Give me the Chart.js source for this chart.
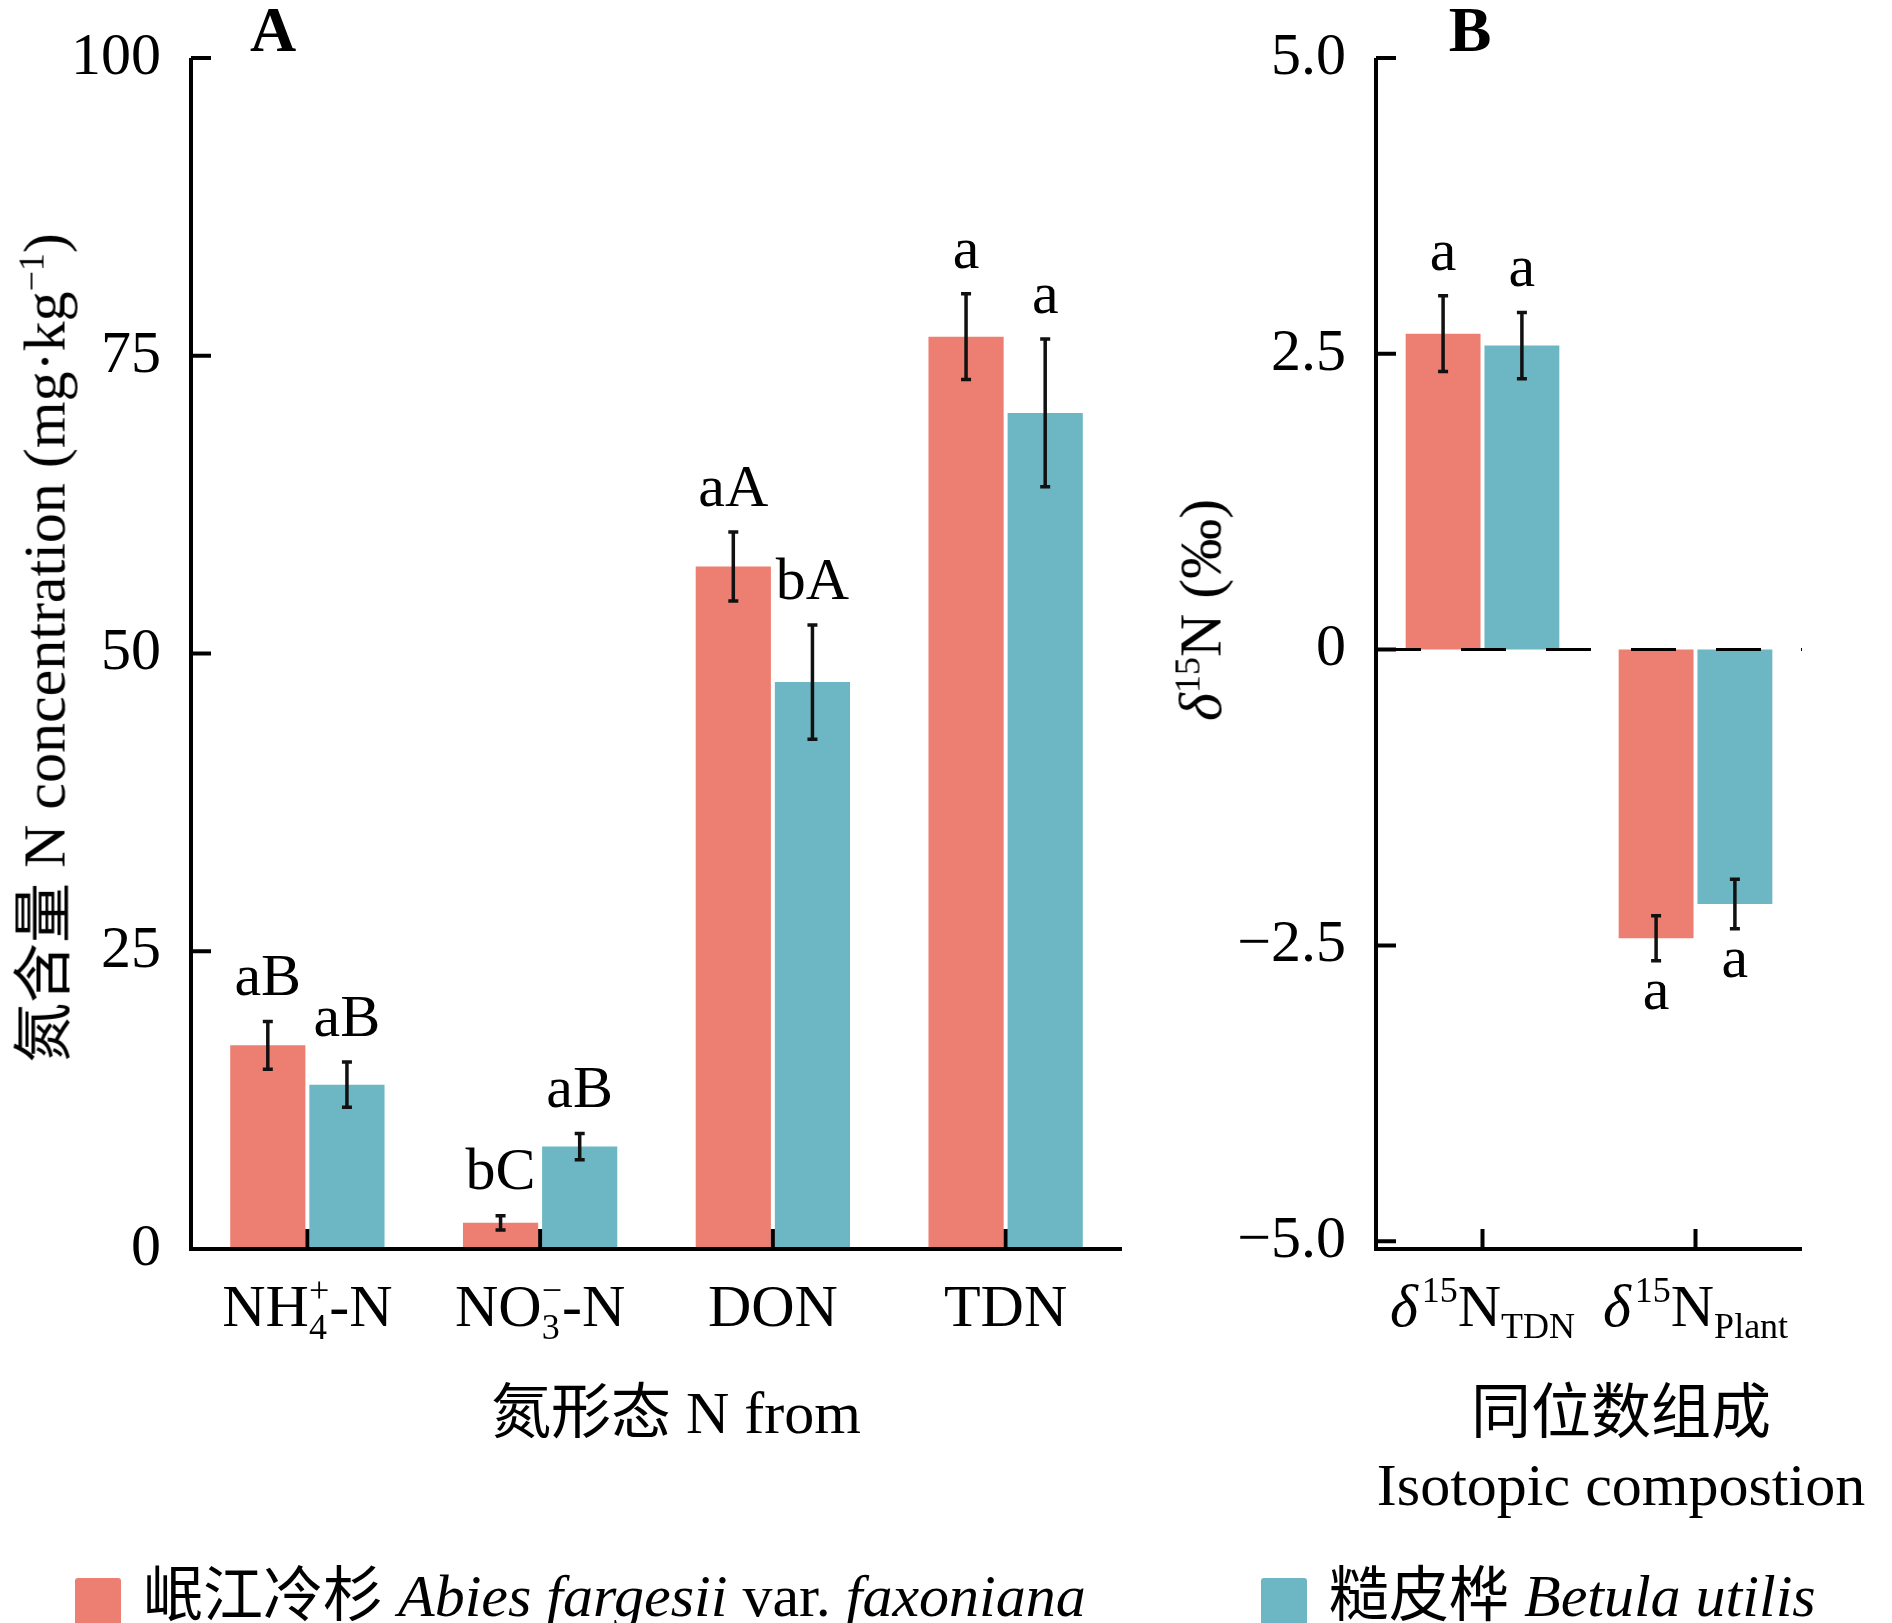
<!DOCTYPE html>
<html>
<head>
<meta charset="utf-8">
<script src="https://cdn.jsdelivr.net/npm/chart.js@4"></script>
<style>
  body { margin: 0; background: #fff; width: 1892px; height: 1623px; position: relative; overflow: hidden;
         font-family: "Liberation Serif", "Noto Sans CJK SC", serif; }
  canvas { position: absolute; top: 0; }
  .t { position: absolute; white-space: nowrap; color: #000; font-size: 60px; transform: translate(-50%, -50%); }
  .cjk { font-family: "Noto Sans CJK SC", sans-serif; }
  .legend { position: absolute; top: 1560px; font-size: 60px; height: 60px; line-height: 60px; white-space: nowrap; }
  .sw { display: inline-block; width: 46px; height: 48px; vertical-align: middle; margin-right: 22px; border-radius: 3px; }
</style>
</head>
<body>
<canvas id="chartA"></canvas>
<canvas id="chartB"></canvas>

<div class="t" style="left:273px;top:30px;font-weight:bold;font-size:64px">A</div>
<div class="t" style="left:1470px;top:30px;font-weight:bold;font-size:64px">B</div>
<div class="t" style="left:676px;top:1406px"><span class="cjk">氮形态</span> N from</div>
<div class="t cjk" style="left:1621px;top:1406px">同位数组成</div>
<div class="t" style="left:1621px;top:1485px">Isotopic compostion</div>
<div class="t" style="left:38px;top:648px;transform:translate(-50%,-50%) rotate(-90deg)"><span class="cjk">氮含量</span> N concentration (mg·kg<sup style="font-size:36px">−1</sup>)</div>
<div class="t" style="left:1201px;top:610px;transform:translate(-50%,-50%) rotate(-90deg)"><i>δ</i><sup style="font-size:36px">15</sup>N (‰)</div>

<div class="legend" style="left:75px"><span class="sw" style="background:#EC7F71"></span><span class="cjk">岷江冷杉</span> <i>Abies fargesii</i> var. <i>faxoniana</i></div>
<div class="legend" style="left:1261px"><span class="sw" style="background:#6DB7C5"></span><span class="cjk">糙皮桦</span> <i>Betula utilis</i></div>

<script>
// Panel A: nitrogen forms
const formCats = ['NH4', 'NO3', 'DON', 'TDN'];
const abiesN = [17.1, 2.2, 57.3, 76.6];
const abiesNErr = [2.0, 0.6, 2.9, 3.6];
const betulaN = [13.8, 8.6, 47.6, 70.2];
const betulaNErr = [1.9, 1.1, 4.8, 6.2];
const abiesNLetters = ['aB', 'bC', 'aA', 'a'];
const betulaNLetters = ['aB', 'aB', 'bA', 'a'];
const yTicksA = [0, 25, 50, 75, 100];

// Panel B: isotopes
const isoCats = ['TDN', 'Plant'];
const abiesD = [2.67, -2.44];
const abiesDErr = [0.32, 0.19];
const betulaD = [2.57, -2.15];
const betulaDErr = [0.28, 0.21];
const abiesDLetters = ['a', 'a'];
const betulaDLetters = ['a', 'a'];
const yTicksB = [-5, -2.5, 0, 2.5, 5];
const yTickLabelsB = ['−5.0', '−2.5', '0', '2.5', '5.0'];

const RED = '#EC7F71', TEAL = '#6DB7C5';
const SERIF = '"Liberation Serif", serif';

// error bars + significance letters
function errorPlugin(errs, letters) {
    return {
        id: 'errs',
        afterDatasetsDraw(chart) {
            const ctx = chart.ctx, y = chart.scales.y;
            ctx.save();
            ctx.strokeStyle = '#111';
            ctx.lineWidth = 3.5;
            ctx.fillStyle = '#000';
            ctx.font = '60px ' + SERIF;
            ctx.textAlign = 'center';
            chart.data.datasets.forEach((ds, di) => {
                chart.getDatasetMeta(di).data.forEach((bar, i) => {
                    const v = ds.data[i], e = errs[di][i];
                    const yt = y.getPixelForValue(v + e), yb = y.getPixelForValue(v - e);
                    ctx.beginPath();
                    ctx.moveTo(bar.x, yt); ctx.lineTo(bar.x, yb);
                    ctx.moveTo(bar.x - 5, yt); ctx.lineTo(bar.x + 5, yt);
                    ctx.moveTo(bar.x - 5, yb); ctx.lineTo(bar.x + 5, yb);
                    ctx.stroke();
                    if (v >= 0) {
                        ctx.textBaseline = 'bottom';
                        ctx.fillText(letters[di][i], bar.x, yt - 12);
                    } else {
                        ctx.textBaseline = 'top';
                        ctx.fillText(letters[di][i], bar.x, yb + 2);
                    }
                });
            });
            ctx.restore();
        }
    };
}

// tick marks pointing inward
function ticksPlugin(yTicks, axisBottom) {
    return {
        id: 'ticks',
        afterDraw(chart) {
            const ctx = chart.ctx, x = chart.scales.x, y = chart.scales.y, a = chart.chartArea;
            ctx.save();
            ctx.strokeStyle = '#000';
            ctx.lineWidth = 4;
            ctx.beginPath();
            ctx.moveTo(a.left, a.top); ctx.lineTo(a.left, axisBottom);
            ctx.moveTo(a.left - 2, axisBottom); ctx.lineTo(a.right, axisBottom);
            yTicks.forEach(t => {
                const py = y.getPixelForValue(t);
                ctx.moveTo(a.left, py); ctx.lineTo(a.left + 20, py);
            });
            x.ticks.forEach((t, i) => {
                const px = x.getPixelForTick(i);
                ctx.moveTo(px, axisBottom); ctx.lineTo(px, axisBottom - 20);
            });
            ctx.stroke();
            ctx.restore();
        }
    };
}

// draw a label made of pieces: n normal, i italic, sup, sub, stack (sup over sub)
function drawRich(ctx, parts, cx, cy, size) {
    const big = size + 'px ' + SERIF, small = Math.round(size * 0.6) + 'px ' + SERIF,
          ital = 'italic ' + big;
    const widths = parts.map(p => {
        if (p.k === 'n') { ctx.font = big; return ctx.measureText(p.t).width; }
        if (p.k === 'i') { ctx.font = ital; return ctx.measureText(p.t).width + 4; }
        ctx.font = small;
        if (p.k === 'stack') return Math.max(ctx.measureText(p.t).width, ctx.measureText(p.b).width);
        return ctx.measureText(p.t).width;
    });
    let x = cx - widths.reduce((s, w) => s + w, 0) / 2;
    ctx.textBaseline = 'alphabetic';
    ctx.textAlign = 'left';
    parts.forEach((p, i) => {
        if (p.k === 'n') { ctx.font = big; ctx.fillText(p.t, x, cy); }
        else if (p.k === 'i') { ctx.font = ital; ctx.fillText(p.t, x, cy); }
        else if (p.k === 'sup') { ctx.font = small; ctx.fillText(p.t, x, cy - size * 0.4); }
        else if (p.k === 'sub') { ctx.font = small; ctx.fillText(p.t, x, cy + size * 0.2); }
        else { ctx.font = small; ctx.fillText(p.t, x, cy - size * 0.4); ctx.fillText(p.b, x, cy + size * 0.22); }
        x += widths[i];
    });
}

function labelPlugin(labels, ly) {
    return {
        id: 'xlabels',
        afterDraw(chart) {
            const ctx = chart.ctx, x = chart.scales.x;
            ctx.save();
            ctx.fillStyle = '#000';
            labels.forEach((parts, i) => drawRich(ctx, parts, x.getPixelForTick(i), ly, 60));
            ctx.restore();
        }
    };
}

const zeroLine = {
    id: 'zero',
    afterDatasetsDraw(chart) {
        const ctx = chart.ctx, a = chart.chartArea, py = chart.scales.y.getPixelForValue(0);
        ctx.save();
        ctx.strokeStyle = '#000';
        ctx.lineWidth = 3;
        ctx.setLineDash([45, 40]);
        ctx.beginPath();
        ctx.moveTo(a.left, py); ctx.lineTo(a.right, py);
        ctx.stroke();
        ctx.restore();
    }
};

function makeChart(id, left, w, h, cats, d1, d2, yMin, yMax, yTicks, yLabels, pad, catPct, plugins) {
    const cv = document.getElementById(id);
    cv.style.left = left + 'px';
    return new Chart(cv, {
        type: 'bar',
        data: {
            labels: cats,
            datasets: [
                { data: d1, backgroundColor: RED, barPercentage: 0.95, categoryPercentage: catPct },
                { data: d2, backgroundColor: TEAL, barPercentage: 0.95, categoryPercentage: catPct }
            ]
        },
        options: {
            responsive: false,
            devicePixelRatio: 1,
            animation: false,
            layout: { padding: pad },
            plugins: { legend: { display: false }, tooltip: { enabled: false } },
            scales: {
                x: {
                    grid: { display: false }, border: { display: false },
                    ticks: { display: false },
                    afterFit: s => { s.height = 0; }
                },
                y: {
                    min: yMin, max: yMax,
                    grid: { display: false }, border: { display: false },
                    afterBuildTicks: s => { s.ticks = yTicks.map(v => ({ value: v })); },
                    ticks: {
                        color: '#000', padding: 22,
                        font: { family: SERIF, size: 60 },
                        callback: (v, i) => yLabels[i]
                    },
                    afterFit: s => { s.width = pad.ySpace; }
                }
            }
        },
        plugins: plugins
    }).canvas.setAttribute('data-w', w);
}

// fixed canvas sizes
document.getElementById('chartA').width = 1150;
document.getElementById('chartA').height = 1400;
document.getElementById('chartB').width = 692;
document.getElementById('chartB').height = 1400;

const labelsA = [
    [{ k: 'n', t: 'NH' }, { k: 'stack', t: '+', b: '4' }, { k: 'n', t: '-N' }],
    [{ k: 'n', t: 'NO' }, { k: 'stack', t: '−', b: '3' }, { k: 'n', t: '-N' }],
    [{ k: 'n', t: 'DON' }],
    [{ k: 'n', t: 'TDN' }]
];
const labelsB = [
    [{ k: 'i', t: 'δ' }, { k: 'sup', t: '15' }, { k: 'n', t: 'N' }, { k: 'sub', t: 'TDN' }],
    [{ k: 'i', t: 'δ' }, { k: 'sup', t: '15' }, { k: 'n', t: 'N' }, { k: 'sub', t: 'Plant' }]
];

makeChart('chartA', 0, 1150, 1400, formCats, abiesN, betulaN, 0, 100, yTicksA, yTicksA.map(String),
    { top: 45, bottom: 151, left: 0, right: 28, ySpace: 191 }, 0.68,
    [errorPlugin([abiesNErr, betulaNErr], [abiesNLetters, betulaNLetters]), ticksPlugin(yTicksA, 1249), labelPlugin(labelsA, 1326)]);

makeChart('chartB', 1200, 692, 1400, isoCats, abiesD, betulaD, -5.066, 5, yTicksB, yTickLabelsB,
    { top: 36, bottom: 151, left: 0, right: 90, ySpace: 176 }, 0.74,
    [zeroLine, errorPlugin([abiesDErr, betulaDErr], [abiesDLetters, betulaDLetters]), ticksPlugin(yTicksB, 1249), labelPlugin(labelsB, 1326)]);
</script>
</body>
</html>
